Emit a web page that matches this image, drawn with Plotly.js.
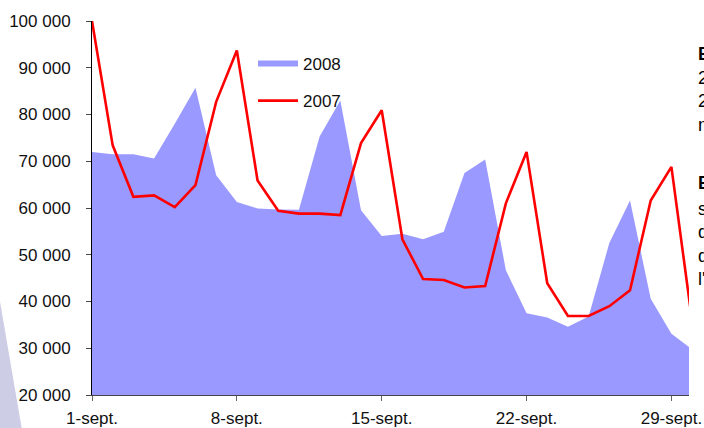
<!DOCTYPE html>
<html>
<head>
<meta charset="utf-8">
<script src="https://cdn.plot.ly/plotly-3.0.1.min.js"></script>
<style>
  html, body { margin: 0; padding: 0; background: #fff; overflow: hidden; }
  #chart { width: 704px; height: 428px; }
</style>
</head>
<body>
<div id="chart"></div>
<script>
// Days of September
const days = [1, 2, 3, 4, 5, 6, 7, 8, 9, 10, 11, 12, 13, 14, 15, 16, 17, 18, 19, 20, 21, 22, 23, 24, 25, 26, 27, 28, 29, 30];

// Series values
const values2008 = [72000, 71500, 71500, 70600, 78000, 85700, 67000, 61300, 59900, 59700,
                    59600, 75300, 83000, 59500, 54000, 54500, 53300, 54900, 67500, 70400,
                    46700, 37500, 36600, 34600, 36800, 52500, 61600, 40600, 33100, 29800];
const values2007 = [100000, 73400, 62400, 62700, 60200, 64900, 82700, 93700, 65900, 59400,
                    58800, 58800, 58500, 73900, 80900, 53300, 44800, 44600, 43000, 43300,
                    61000, 72000, 43900, 36900, 36900, 39000, 42400, 61600, 68800, 35800];

// Tick labels
const xTickVals = [1, 8, 15, 22, 29];
const xTickText = ['1-sept.', '8-sept.', '15-sept.', '22-sept.', '29-sept.'];

const seriesNames = ['2008', '2007'];

const traces = [
  {
    x: days, y: values2008, name: seriesNames[0], type: 'scatter', mode: 'none',
    fill: 'tozeroy', fillcolor: '#9999FF', legendgroup: 'a', hoverinfo: 'x+y'
  },
  {
    x: days, y: values2007, name: seriesNames[1], type: 'scatter', mode: 'lines',
    line: { color: '#FF0000', width: 2.6 }, legendgroup: 'b'
  }
];

// plot area geometry in pixels for decoration placement
const L = 92, R = 15, T = 21, B = 33, W = 704, H = 428;
const pw = W - L - R, ph = H - T - B;
const px = v => (v - L) / pw;
const py = v => (H - B - v) / ph;

const layout = {
  width: W, height: H,
  margin: { l: L, r: R, t: T, b: B, pad: 0 },
  paper_bgcolor: '#ffffff', plot_bgcolor: '#ffffff',
  separators: ', ',
  font: { family: 'Liberation Sans, Arial, sans-serif', size: 17, color: '#111' },
  showlegend: true,
  legend: {
    x: px(253), y: py(46), xanchor: 'left', yanchor: 'top',
    bgcolor: 'rgba(0,0,0,0)', font: { size: 17, color: '#111' },
    tracegroupgap: 12, itemwidth: 40, traceorder: 'grouped'
  },
  xaxis: {
    range: [1, 29.85], showgrid: false, zeroline: false,
    showline: true, linecolor: '#444', linewidth: 1,
    ticks: 'outside', ticklen: 5, tickcolor: '#666',
    tickvals: xTickVals, ticktext: xTickText,
    ticklabelstandoff: 3, fixedrange: true
  },
  yaxis: {
    range: [20000, 100000], dtick: 10000, tick0: 20000,
    showgrid: false, zeroline: false,
    showline: true, linecolor: '#000', linewidth: 1,
    ticks: 'outside', ticklen: 5, tickcolor: '#444',
    tickformat: ',.0f', ticklabelstandoff: 12, fixedrange: true
  },
  shapes: [
    {
      type: 'path', xref: 'paper', yref: 'paper', layer: 'below',
      path: 'M ' + px(-3) + ' ' + py(284) + ' L ' + px(22) + ' ' + py(430) +
            ' L ' + px(-3) + ' ' + py(430) + ' Z',
      fillcolor: '#CDCDE6', line: { width: 0 }
    }
  ],
  annotations: [
    {
      xref: 'paper', yref: 'paper', x: px(696), y: py(54), xanchor: 'left', yanchor: 'middle',
      align: 'left', showarrow: false, font: { size: 18, color: '#000' },
      text: '<b>Evolution</b>'
    },
    {
      xref: 'paper', yref: 'paper', x: px(696), y: py(66), xanchor: 'left', yanchor: 'top',
      align: 'left', showarrow: false, font: { size: 18, color: '#000' },
      text: '2008 : baisse<br>2007 : hausse<br>moyenne'
    },
    {
      xref: 'paper', yref: 'paper', x: px(696), y: py(183), xanchor: 'left', yanchor: 'middle',
      align: 'left', showarrow: false, font: { size: 18, color: '#000' },
      text: '<b>Evolution</b>'
    },
    {
      xref: 'paper', yref: 'paper', x: px(696), y: py(197), xanchor: 'left', yanchor: 'top',
      align: 'left', showarrow: false, font: { size: 18, color: '#000' },
      text: 'semaine<br>du mois<br>de septembre<br>l\'ensemble'
    }
  ]
};

Plotly.newPlot('chart', traces, layout, { displayModeBar: false, staticPlot: true });
</script>
</body>
</html>
